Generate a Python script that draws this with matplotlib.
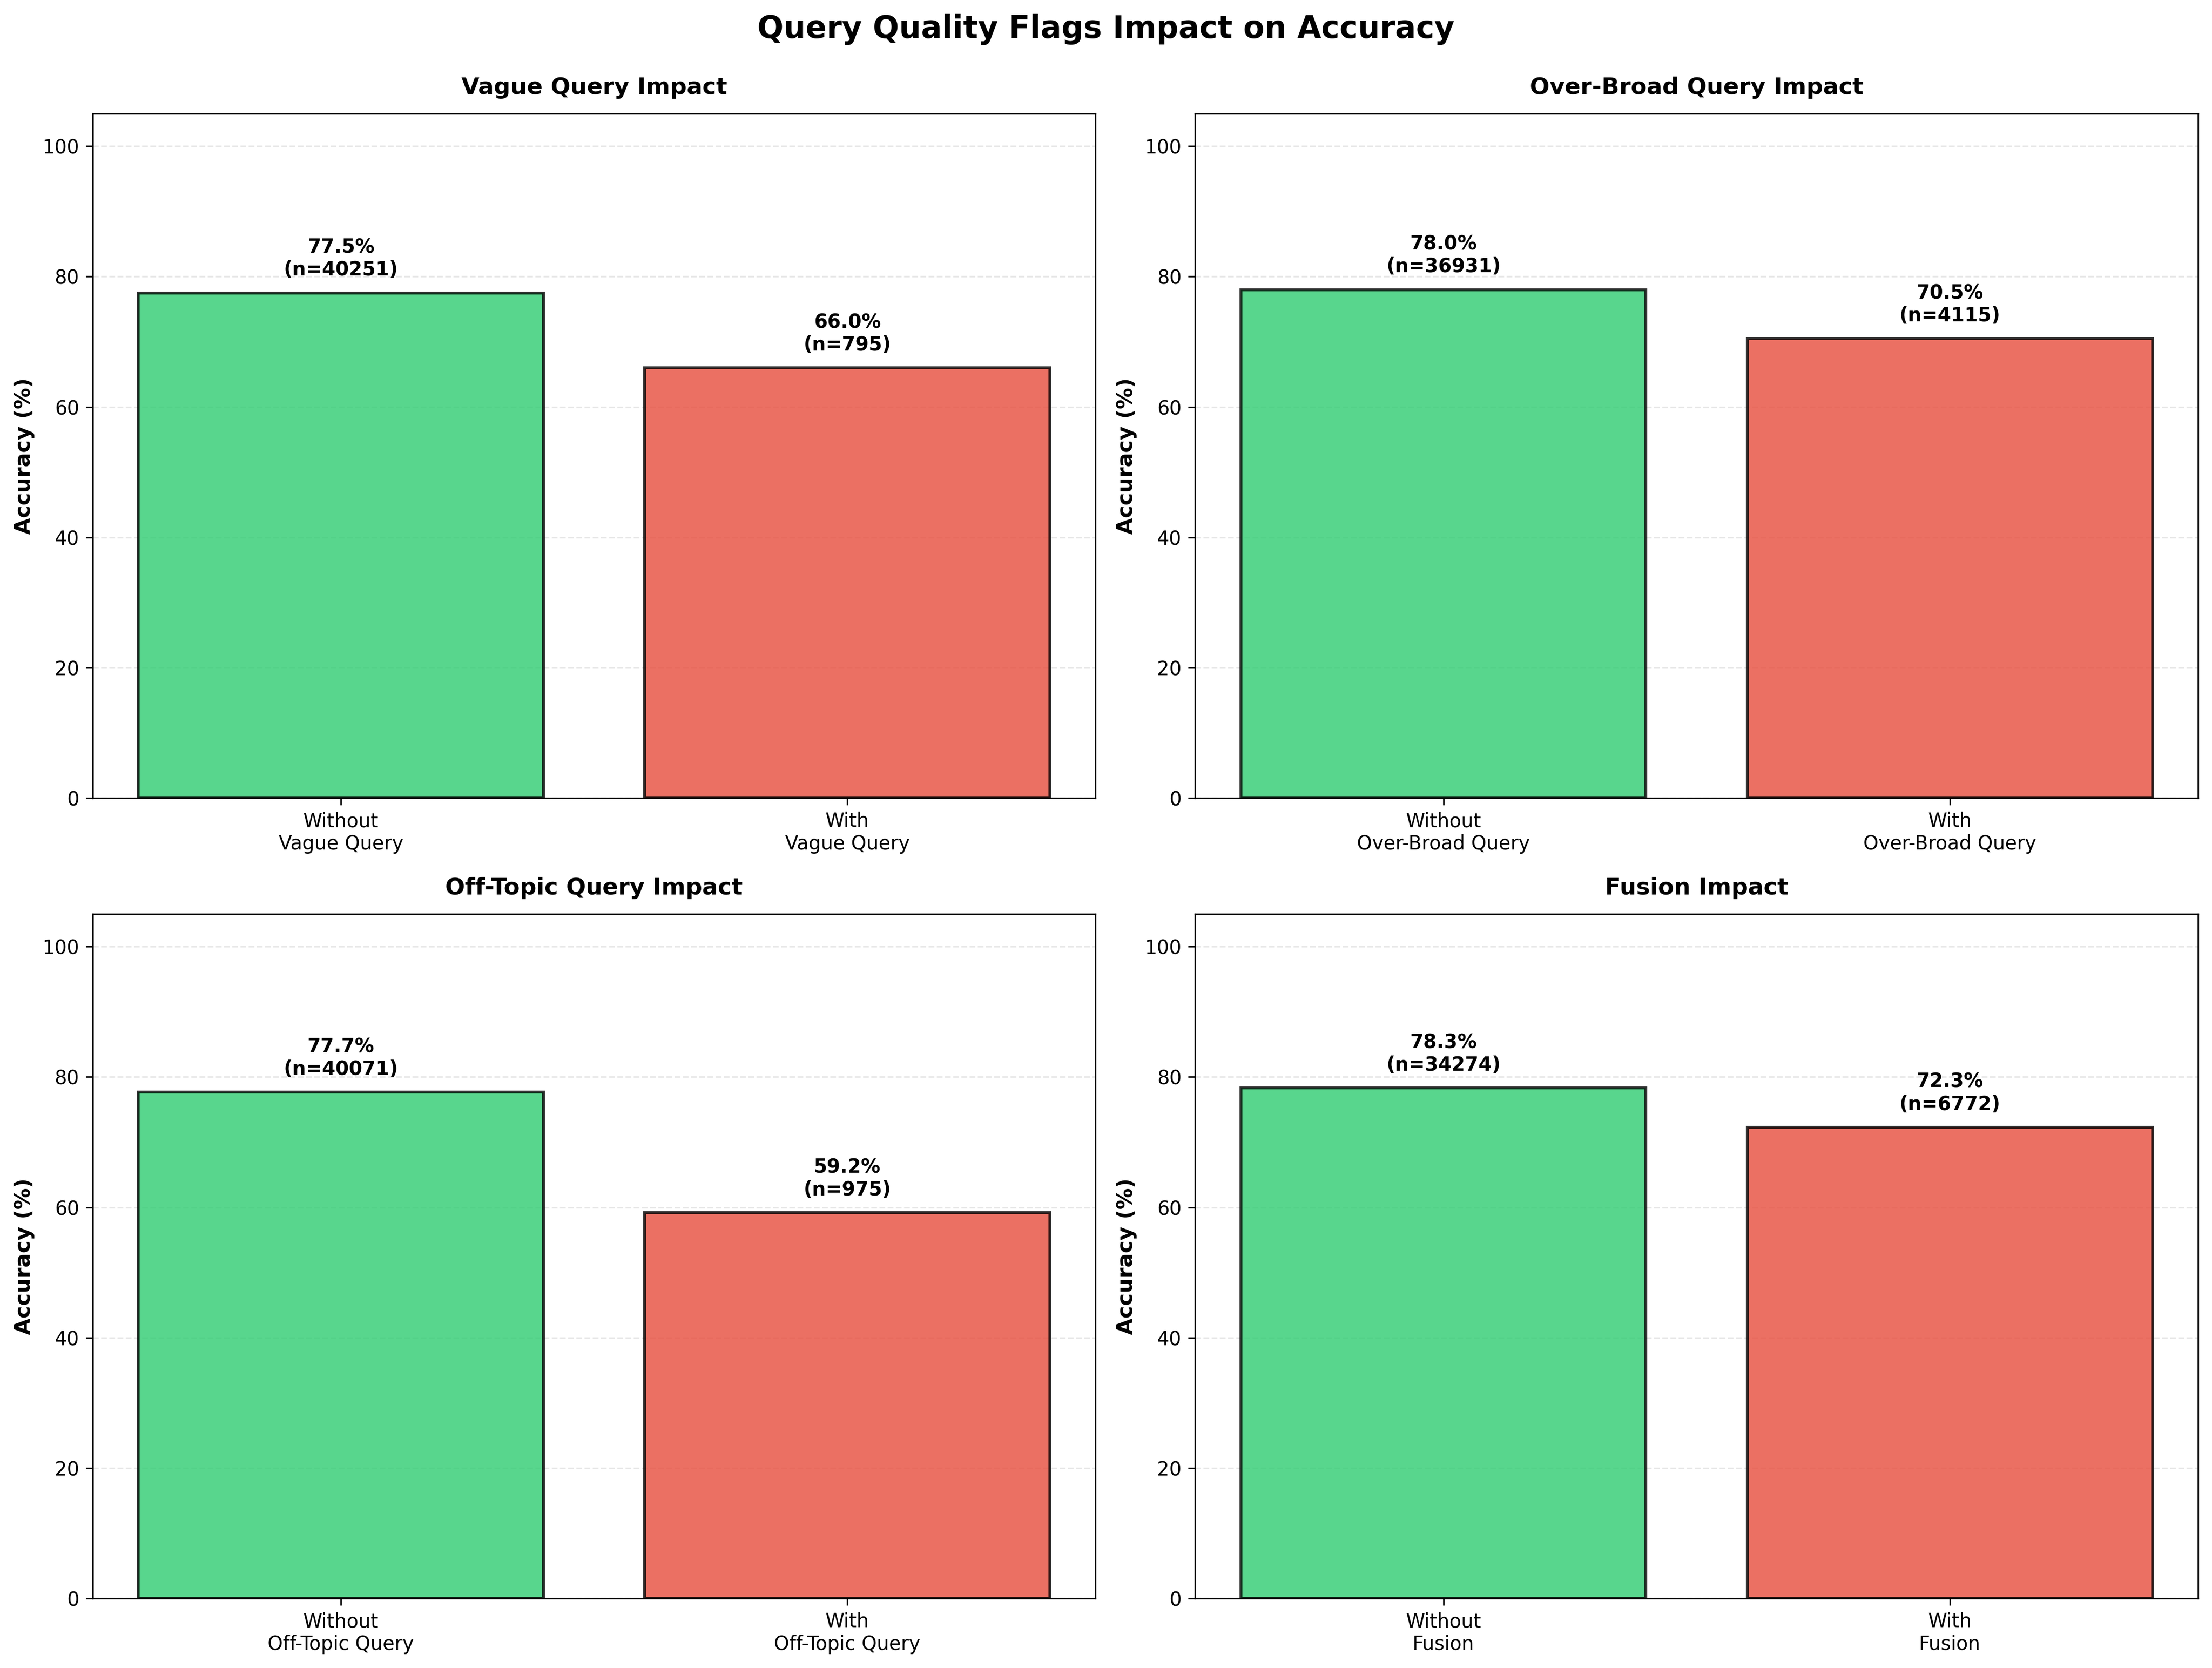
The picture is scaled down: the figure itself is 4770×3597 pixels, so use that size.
import matplotlib
matplotlib.use("Agg")
import matplotlib.pyplot as plt

flags = ["Vague Query", "Over-Broad Query", "Off-Topic Query", "Fusion"]
acc_without = [77.5, 78.0, 77.7, 78.3]
acc_with = [66.0, 70.5, 59.2, 72.3]
n_without = [40251, 36931, 40071, 34274]
n_with = [795, 4115, 975, 6772]

fig, axes = plt.subplots(2, 2, figsize=(15.9, 11.99), dpi=300)
fig.subplots_adjust(left=0.0419, right=0.9937, top=0.9319, bottom=0.0417,
                    wspace=0.0994, hspace=0.1694)
fig.suptitle("Query Quality Flags Impact on Accuracy", fontsize=16, fontweight="bold",
             y=0.9772, va="baseline")

for ax, flag, aw, aw2, nw, nw2 in zip(axes.flat, flags, acc_without, acc_with, n_without, n_with):
    labels = [f"Without\n{flag}", f"With\n{flag}"]
    vals = [aw, aw2]
    ns = [nw, nw2]
    bars = ax.bar(labels, vals, color=["#2ecc71", "#e74c3c"], alpha=0.8,
                  edgecolor="black", linewidth=1.5)
    for b, v, n in zip(bars, vals, ns):
        ax.text(b.get_x() + b.get_width() / 2, v + 2, f"{v:.1f}%\n(n={n})",
                ha="center", va="bottom", fontsize=10, fontweight="bold")
    ax.set_ylim(0, 105)
    ax.set_ylabel("Accuracy (%)", fontsize=11, fontweight="bold")
    ax.set_title(f"{flag} Impact", fontsize=12, fontweight="bold", pad=10)
    ax.grid(axis="y", alpha=0.3, linestyle="--")
    ax.set_axisbelow(True)

plt.savefig("out.png", dpi=300)
